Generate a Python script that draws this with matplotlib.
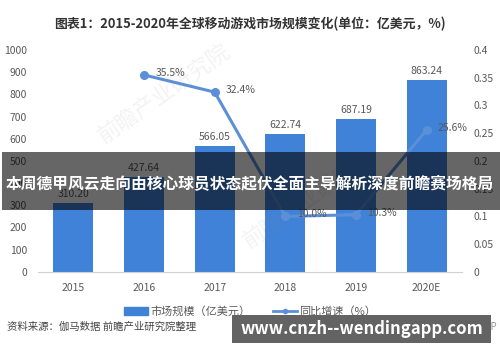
import matplotlib.pyplot as plt
from matplotlib.lines import Line2D
from matplotlib.patches import Patch, Rectangle
from matplotlib.ticker import FuncFormatter

plt.rcParams["font.family"] = ["Noto Sans CJK SC", "DejaVu Sans"]

years = ["2015", "2016", "2017", "2018", "2019", "2020E"]
market_size = [310.2, 427.64, 566.05, 622.74, 687.19, 863.24]
growth_years = ["2016", "2017", "2018", "2019", "2020E"]
growth = [0.355, 0.324, 0.100, 0.103, 0.256]

BAR = "#3f82d8"
LINE = "#5b90d8"
GREY = "#595959"

fig = plt.figure(figsize=(5, 3.62), dpi=100)
ax = fig.add_axes([0.076, 0.249, 0.848, 0.613])
ax2 = ax.twinx()

x = list(range(len(years)))
ax.bar(x, market_size, width=0.57, color=BAR, zorder=2)
for xi, v in zip(x, market_size):
    ax.text(xi, v + 18, f"{v:.2f}", ha="center", va="bottom", fontsize=7.5, color=GREY)

gx = [years.index(y) for y in growth_years]
ax2.plot(gx, growth, color=LINE, lw=2.2, marker="o", ms=5.5, zorder=3)
for xi, g in zip(gx, growth):
    ax2.text(xi + 0.16, g + 0.004, f"{g * 100:.1f}%", ha="left", va="center", fontsize=7.5, color=GREY)

ax.set_xlim(-0.5, len(years) - 0.5)
ax.set_ylim(0, 1000)
ax.set_yticks(range(0, 1001, 100))
ax2.set_ylim(0, 0.4)
ax2.set_yticks([i * 0.05 for i in range(9)])
ax2.yaxis.set_major_formatter(FuncFormatter(lambda v, p: f"{v:.2f}".rstrip("0").rstrip(".")))
ax.set_xticks(x, years)

for a in (ax, ax2):
    for s in ("top", "left", "right"):
        a.spines[s].set_visible(False)
    a.tick_params(length=0, labelsize=7.5, labelcolor=GREY)
ax.spines["bottom"].set_color("#d0d0d0")
ax2.spines["bottom"].set_visible(False)
ax.tick_params(axis="x", pad=8)
ax.tick_params(axis="y", pad=8)
ax2.tick_params(axis="y", pad=8)

fig.text(0.5, 0.935, "图表1：2015-2020年全球移动游戏市场规模变化(单位：亿美元，%)",
         ha="center", va="center", fontsize=9.3, fontweight="bold", color="#333333")

handles = [Patch(color=BAR), Line2D([], [], color=LINE, lw=2, marker="o", ms=3)]
fig.legend(handles, ["市场规模（亿美元）", "同比增速（%）"], loc="center",
           bbox_to_anchor=(0.5, 0.14), ncol=2, frameon=False, fontsize=8,
           labelcolor=GREY, handlelength=2.2, columnspacing=2.0, handletextpad=0.2)

fig.text(0.014, 0.097, "资料来源：伽马数据 前瞻产业研究院整理", ha="left", va="center",
         fontsize=7.5, color="#444444")
fig.text(0.995, 0.097, "前瞻经济学人APP", ha="right", va="center", fontsize=7, color="#999999")

# faint watermark
for wx, wy in [(0.33, 0.74), (0.62, 0.45)]:
    fig.text(wx, wy, "前瞻产业研究院", rotation=35, fontsize=16, color="#888888", alpha=0.1,
             ha="center", va="center", zorder=5)

# overlay banners
fig.patches.append(Rectangle((0.004, 1 - 210 / 362), 0.996, 58 / 362, transform=fig.transFigure,
                             facecolor="black", alpha=0.6, zorder=10))
fig.text(0.5, 1 - 184 / 362, "本周德甲风云走向由核心球员状态起伏全面主导解析深度前瞻赛场格局",
         ha="center", va="center", fontsize=11.3, fontweight="bold", color="white", zorder=11)
fig.patches.append(Rectangle((232 / 500, 1 - 343 / 362), 259 / 500, 28 / 362,
                             transform=fig.transFigure, facecolor="#636363", zorder=10))
fig.text(0.482, 1 - 329 / 362, "www.cnzh--wendingapp.com", ha="left", va="center",
         fontsize=12, fontweight="bold", color="white", zorder=11)

fig.savefig("out.png", dpi=100)
